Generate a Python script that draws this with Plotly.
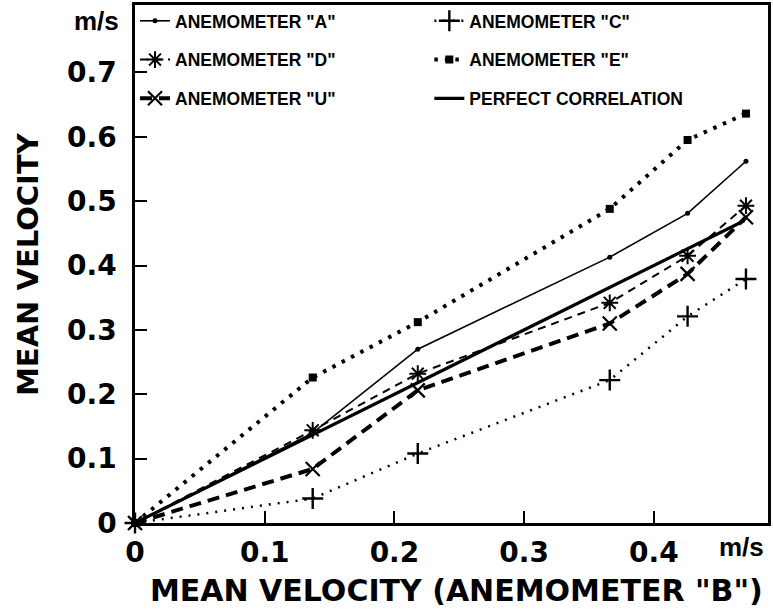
import plotly.graph_objects as go

# ---- data ----
x_b = [0, 0.137, 0.218, 0.366, 0.426, 0.471]
anem_a = [0, 0.140, 0.270, 0.413, 0.481, 0.562]
anem_c = [0, 0.038, 0.108, 0.222, 0.321, 0.379]
anem_d = [0, 0.144, 0.232, 0.342, 0.415, 0.493]
anem_e = [0, 0.226, 0.312, 0.488, 0.595, 0.636]
anem_u = [0, 0.084, 0.206, 0.310, 0.387, 0.475]
perfect_x = [0, 0.47]
perfect_y = [0, 0.47]

x_tickvals = [0, 0.1, 0.2, 0.3, 0.4]
x_ticktext = ["0", "0.1", "0.2", "0.3", "0.4"]
y_tickvals = [0, 0.1, 0.2, 0.3, 0.4, 0.5, 0.6, 0.7]
y_ticktext = ["0", "0.1", "0.2", "0.3", "0.4", "0.5", "0.6", "0.7"]

FONT = "Liberation Sans"
FONT_BIG = "DejaVu Sans"
BLK = "black"

fig = go.Figure()

def add(name, y, xs, legend, dash, width, symbol, msize, mline=2, mode="lines+markers"):
    fig.add_trace(go.Scatter(
        x=xs, y=y, name=name, mode=mode, legend=legend, legendgroup=name,
        line=dict(color=BLK, width=width, dash=dash),
        marker=dict(symbol=symbol, size=msize, color=BLK,
                    line=dict(color=BLK, width=mline)),
        cliponaxis=False,
    ))

add('ANEMOMETER "A"', anem_a, x_b, "legend", "solid", 1.6, "circle", 5, 0)
add('ANEMOMETER "D"', anem_d, x_b, "legend", "8px,6px", 2, "asterisk-open", 14, 2)
add('ANEMOMETER "U"', anem_u, x_b, "legend", "12px,7px", 4, "x-thin-open", 14, 2.2)
add('ANEMOMETER "C"', anem_c, x_b, "legend2", "2px,7px", 2.5, "cross-thin-open", 15, 2.4)
add('ANEMOMETER "E"', anem_e, x_b, "legend2", "3.5px,7px", 4, "square", 8, 0)
add('PERFECT CORRELATION', perfect_y, perfect_x, "legend2", "solid", 3.2, "circle", 1, 0, mode="lines")

axis_common = dict(
    showline=True, linecolor=BLK, linewidth=2.5, mirror=True,
    ticks="inside", ticklen=12, tickwidth=2, tickcolor=BLK,
    showgrid=False, zeroline=False,
    tickfont=dict(family=FONT_BIG, size=28, color=BLK, weight=700),
)

fig.update_xaxes(range=[0, 0.488], tickvals=x_tickvals, ticktext=x_ticktext,
                 ticklabelstandoff=3, **axis_common)
fig.update_yaxes(range=[0, 0.8047], tickvals=y_tickvals, ticktext=y_ticktext,
                 ticklabelstandoff=10, **axis_common)

legfont = dict(family=FONT, size=17.5, color=BLK, weight=700)
fig.update_layout(
    width=773, height=616,
    margin=dict(l=135, r=2, t=4, b=93),
    paper_bgcolor="white", plot_bgcolor="white",
    showlegend=True,
    legend=dict(x=0.0, y=1.004, xanchor="left", yanchor="top", font=legfont,
                bgcolor="rgba(0,0,0,0)", tracegroupgap=13, itemwidth=30),
    legend2=dict(x=0.465, y=1.004, xanchor="left", yanchor="top", font=legfont,
                 bgcolor="rgba(0,0,0,0)", tracegroupgap=13, itemwidth=30),
    annotations=[
        dict(text="MEAN VELOCITY", xref="paper", yref="paper", x=0, y=0.5,
             xanchor="center", yanchor="middle", xshift=-107, textangle=-90,
             showarrow=False, font=dict(family=FONT_BIG, size=29, color=BLK, weight=700)),
        dict(text='MEAN VELOCITY (ANEMOMETER "B")', xref="paper", yref="paper",
             x=0.5, y=0, xanchor="center", yanchor="middle", yshift=-67, xshift=5,
             showarrow=False, font=dict(family=FONT_BIG, size=30, color=BLK, weight=700)),
        dict(text="m/s", xref="paper", yref="paper", x=0, y=1, xanchor="right",
             yanchor="middle", xshift=-14, yshift=-16, showarrow=False,
             font=dict(family=FONT, size=26, color=BLK, weight=700)),
        dict(text="m/s", xref="paper", yref="paper", x=1, y=0, xanchor="right",
             yanchor="middle", xshift=-2, yshift=-24, showarrow=False,
             font=dict(family=FONT, size=26, color=BLK, weight=700)),
    ],
)

fig.write_html("out.html", config={"displayModeBar": False},
               post_script="document.body.style.margin='0';")
